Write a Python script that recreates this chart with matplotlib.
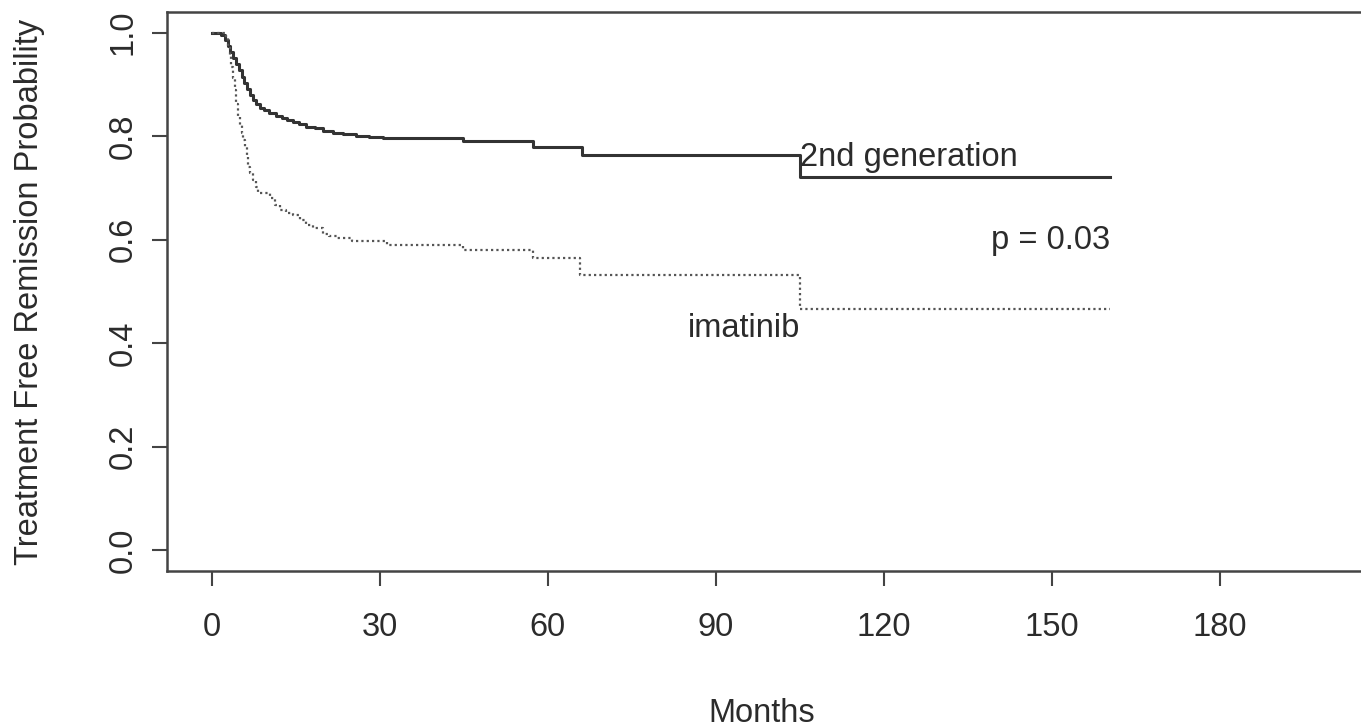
import matplotlib
matplotlib.use("Agg")
import matplotlib.pyplot as plt

# Kaplan-Meier estimates (months, probability)
second_gen_t = [0, 1.7, 2.3, 2.8, 3.3, 3.8, 4.3, 4.8, 5.3, 5.8,
                6.3, 6.8, 7.3, 7.9, 8.6, 9.3, 10.2, 11.5, 12.5, 13.5,
                14.5, 15.5, 16.9, 18.5, 19.9, 21.7, 23.5, 25.8, 28.0, 30.6,
                44.9, 57.4, 66.0, 105.0, 160.4]
second_gen_s = [1.0, 0.995, 0.985, 0.975, 0.963, 0.952, 0.940, 0.928, 0.915, 0.903,
                0.892, 0.880, 0.870, 0.862, 0.855, 0.850, 0.845, 0.840, 0.836, 0.832,
                0.828, 0.823, 0.818, 0.815, 0.811, 0.807, 0.804, 0.801, 0.799, 0.797,
                0.790, 0.779, 0.764, 0.722, 0.722]

imatinib_t = [0, 2.5, 2.9, 3.2, 3.5, 3.8, 4.1, 4.4, 4.7, 5.0,
              5.3, 5.6, 5.9, 6.2, 6.5, 6.9, 7.4, 7.8, 8.3, 10.4,
              11.2, 12.1, 13.3, 14.5, 15.7, 16.9, 18.1, 19.9, 21.0, 22.3,
              25.0, 31.2, 44.9, 57.4, 65.7, 105.0, 160.4]
imatinib_s = [1.0, 0.99, 0.975, 0.955, 0.934, 0.912, 0.889, 0.863, 0.838, 0.822,
              0.806, 0.793, 0.780, 0.760, 0.741, 0.728, 0.715, 0.702, 0.690, 0.680,
              0.668, 0.657, 0.652, 0.648, 0.638, 0.628, 0.622, 0.612, 0.607, 0.603,
              0.598, 0.590, 0.580, 0.564, 0.532, 0.466, 0.466]

x_ticks = [0, 30, 60, 90, 120, 150, 180]
y_ticks = [0.0, 0.2, 0.4, 0.6, 0.8, 1.0]

plt.rcParams['font.family'] = ['Liberation Sans', 'DejaVu Sans']
txt = '#2b2b2b'
fs = 23.5

W, H = 1361, 728
fig = plt.figure(figsize=(W / 100, H / 100), dpi=100)
ax = fig.add_axes([167 / W, (H - 571) / H, 1210 / W, 559 / H])

ax.step(second_gen_t, second_gen_s, where='post', color='#333333', lw=2.2)
ax.step(imatinib_t, imatinib_s, where='post', color='#555555', lw=1.6,
        linestyle=(0, (1, 1.4)))

ax.set_xlim(-8, 208)
ax.set_ylim(-0.04, 1.04)
ax.set_xticks(x_ticks)
ax.set_yticks(y_ticks)
ax.set_yticklabels([f"{v:.1f}" for v in y_ticks], rotation=90, va='center')

for s in ax.spines.values():
    s.set_color('#444444')
    s.set_linewidth(1.8)
ax.tick_params(direction='out', length=10.5, width=1.5, color='#444444',
               labelsize=fs, labelcolor=txt)
ax.tick_params(axis='x', pad=19)
ax.tick_params(axis='y', pad=10)

ax.text(105.0, 0.758, "2nd generation", ha='left', va='center', fontsize=fs, color=txt)
ax.text(160.4, 0.599, "p = 0.03", ha='right', va='center', fontsize=fs, color=txt)
ax.text(105.0, 0.429, "imatinib", ha='right', va='center', fontsize=fs, color=txt)

fig.text(762 / W, 1 - 714 / H, "Months", ha='center', va='center', fontsize=fs, color=txt)
fig.text(30 / W, 1 - 292 / H, "Treatment Free Remission Probability", rotation=90,
         ha='center', va='center', fontsize=fs, color=txt)

fig.savefig("out.png", dpi=100)
